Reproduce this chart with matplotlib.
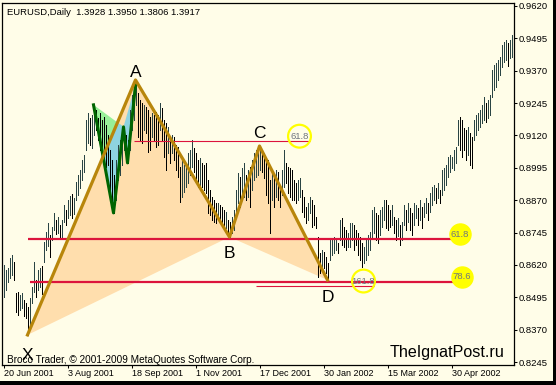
import numpy as np
import matplotlib.pyplot as plt
from matplotlib.patches import Polygon, Rectangle

# EURUSD daily bars from 20 Jun 2001, high / low in pips (price * 10000)
highs = [
    8620, 8601, 8608, 8647, 8659, 8632, 8512, 8516, 8504, 8512,
    8485, 8473, 8458, 8493, 8535, 8632, 8562, 8601, 8608, 8616,
    8709, 8748, 8782, 8736, 8767, 8821, 8794, 8805, 8775, 8794,
    8852, 8832, 8871, 8886, 8894, 8879, 8941, 8968, 8987, 9025,
    9045, 9180, 9207, 9188, 9199, 9238, 9218, 9188, 9207, 9180,
    9191, 9161, 9122, 9064, 9025, 8968, 9025, 9083, 9103, 9122,
    9153, 9122, 9103, 9218, 9276, 9307, 9334, 9284, 9257, 9245,
    9238, 9230, 9218, 9191, 9207, 9199, 9211, 9199, 9245, 9226,
    9180, 9168, 9153, 9103, 9122, 9114, 9083, 9076, 8998, 9025,
    9006, 8998, 9052, 9064, 9103, 9072, 9052, 9025, 9033, 9014,
    9006, 9014, 8948, 8910, 8883, 8871, 8859, 8859, 8852, 8844,
    8832, 8825, 8794, 8786, 8805, 8832, 8910, 8975, 8960, 8995,
    9014, 8968, 8987, 8998, 9025, 9052, 9064, 9076, 9079, 9064,
    9052, 9025, 9025, 8948, 8975, 8960, 8987, 8979, 8921, 8987,
    9064, 9014, 8998, 8995, 8987, 8948, 8937, 8948, 8956, 8910,
    8883, 8844, 8859, 8883, 8871, 8852, 8805, 8728, 8666, 8678,
    8670, 8651, 8628, 8717, 8724, 8728, 8717, 8705, 8794, 8802,
    8767, 8755, 8744, 8782, 8782, 8775, 8755, 8744, 8728, 8705,
    8690, 8717, 8736, 8748, 8832, 8844, 8821, 8813, 8832, 8844,
    8871, 8871, 8852, 8832, 8852, 8805, 8794, 8802, 8775, 8786,
    8852, 8832, 8859, 8840, 8821, 8859, 8852, 8840, 8871, 8844,
    8859, 8879, 8859, 8898, 8921, 8929, 8917, 8937, 8910, 8987,
    8995, 9006, 9037, 9045, 9037, 9064, 9076, 9180, 9191, 9180,
    9149, 9141, 9153, 9130, 9114, 9180, 9199, 9207, 9218, 9238,
    9269, 9245, 9257, 9276, 9373, 9392, 9400, 9411, 9423, 9469,
    9481, 9489, 9477, 9489, 9508,
]
lows = [
    8497, 8524, 8555, 8570, 8582, 8562, 8439, 8427, 8446, 8454,
    8423, 8416, 8350, 8377, 8473, 8516, 8497, 8524, 8535, 8508,
    8632, 8678, 8693, 8651, 8717, 8755, 8740, 8744, 8724, 8728,
    8786, 8775, 8802, 8813, 8802, 8817, 8871, 8890, 8917, 8948,
    8979, 9064, 9091, 9083, 9072, 9122, 9141, 9103, 9064, 9052,
    9025, 8998, 9006, 8910, 8852, 8821, 8871, 8948, 8968, 9006,
    9064, 9025, 9014, 9064, 9141, 9180, 9238, 9114, 9103, 9091,
    9141, 9130, 9056, 9064, 9114, 9103, 9076, 9083, 9141, 9103,
    9037, 8987, 9052, 9014, 9052, 9025, 8987, 8960, 8863, 8883,
    8902, 8921, 8937, 8968, 8998, 8979, 8948, 8921, 8929, 8921,
    8910, 8898, 8821, 8813, 8794, 8786, 8782, 8794, 8786, 8775,
    8755, 8763, 8736, 8728, 8744, 8755, 8813, 8859, 8844, 8871,
    8883, 8871, 8883, 8844, 8910, 8948, 8960, 8968, 8987, 8979,
    8956, 8890, 8859, 8744, 8871, 8844, 8883, 8871, 8844, 8890,
    8921, 8937, 8898, 8883, 8871, 8871, 8859, 8871, 8883, 8825,
    8805, 8782, 8794, 8821, 8767, 8775, 8763, 8574, 8589, 8601,
    8608, 8589, 8562, 8639, 8659, 8666, 8678, 8666, 8717, 8697,
    8690, 8678, 8690, 8690, 8717, 8678, 8697, 8659, 8639, 8612,
    8628, 8639, 8659, 8678, 8728, 8744, 8717, 8705, 8736, 8767,
    8794, 8763, 8755, 8767, 8775, 8744, 8717, 8732, 8697, 8717,
    8775, 8755, 8786, 8755, 8736, 8775, 8802, 8775, 8794, 8763,
    8805, 8821, 8794, 8825, 8852, 8871, 8859, 8879, 8859, 8890,
    8910, 8929, 8960, 8979, 8995, 8987, 9014, 9083, 9064, 9037,
    9064, 9025, 9045, 9006, 8995, 9103, 9122, 9141, 9153, 9168,
    9180, 9172, 9188, 9199, 9269, 9296, 9307, 9334, 9353, 9384,
    9404, 9411, 9388, 9419, 9423,
]

date_labels = ["20 Jun 2001", "3 Aug 2001", "18 Sep 2001", "1 Nov 2001",
               "17 Dec 2001", "30 Jan 2002", "15 Mar 2002", "30 Apr 2002"]
date_step = 32
price_ticks = [0.9620, 0.9495, 0.9370, 0.9245, 0.9120, 0.8995,
               0.8870, 0.8745, 0.8620, 0.8495, 0.8370, 0.8245]

# XABCD pattern (bar index, price)
pattern_names = ["X", "A", "B", "C", "D"]
pattern_bars = [12, 66, 113, 128, 162]
pattern_prices = [0.8350, 0.9334, 0.8728, 0.9079, 0.8562]

# small inner pattern
small_bars = [45, 55, 60, 62, 66]
small_prices = [0.9238, 0.8821, 0.9153, 0.9014, 0.9315]

# fibo levels
fib_levels = [0.8720, 0.8556, 0.9099, 0.8540]
fib_labels = ["61.8", "78.6", "61.8", "161.8"]
fib_from = [12, 13, 65, 126]
fib_to = [233, 234, 153, 185]
fib_main = [True, True, False, False]

bg = "#FFFDE8"
plt.rcParams['font.family'] = ['Liberation Sans', 'DejaVu Sans']

W, H = 556, 385
fig = plt.figure(figsize=(W / 100, H / 100), dpi=100)
fig.patch.set_facecolor(bg)
ax = fig.add_axes([2 / W, 1 - 365 / H, 512 / W, 362 / H])
ax.set_facecolor(bg)

n = len(highs)
x = np.arange(n)
hi = np.array(highs) / 10000
lo = np.array(lows) / 10000
mid = (hi + lo) / 2
down = np.r_[False, mid[1:] < mid[:-1]]
cols = np.where(down, "black", "#2A4444")
ax.vlines(x, lo, hi, colors=cols, linewidth=0.55, antialiased=False,
          snap=True, zorder=3)

# pattern triangles
xab = Polygon(list(zip(pattern_bars[:3], pattern_prices[:3])), closed=True,
              fc="#FFDEAD", ec="none", zorder=1)
bcd = Polygon(list(zip(pattern_bars[2:], pattern_prices[2:])), closed=True,
              fc="#FFDEAD", ec="none", zorder=1)
ax.add_patch(xab)
ax.add_patch(bcd)

g1 = Polygon(list(zip(small_bars[:3], small_prices[:3])), closed=True,
             fc="#98F098", ec="none", zorder=1.5)
ax.add_patch(g1)
for pts in (list(zip(small_bars[:3], small_prices[:3])),
            list(zip(small_bars[2:], small_prices[2:]))):
    b = Polygon(pts, closed=True, fc="#8ED3E0", ec="none", zorder=1.6)
    ax.add_patch(b)
    b.set_clip_path(xab)

ax.plot(small_bars, small_prices, color="#006400", lw=2.2, zorder=4)
ax.plot(pattern_bars, pattern_prices, color="#B8860B", lw=2.3, zorder=5)

# fibo lines and labels
for lev, lab, x0, x1, main in zip(fib_levels, fib_labels, fib_from, fib_to, fib_main):
    ax.hlines(lev, x0, x1, color="#DC143C", lw=1.6 if main else 0.8, zorder=4.5)
    cx = x1 - 5
    cy = lev + 0.0018
    if main:
        ax.scatter([cx], [cy], s=230, facecolor="#FFFF00", edgecolor="#FFFF00",
                   lw=1, zorder=6)
    else:
        ax.scatter([cx], [cy], s=270, facecolor="none", edgecolor="#FFFF00",
                   lw=1.6, zorder=6)
    ax.text(cx, cy, lab, fontsize=6.8, color="#6E7480", ha="center",
            va="center", zorder=7)

# point letters
offs = {"X": -18, "A": 2.2, "B": -15, "C": 5.8, "D": -15.8}
for name, bx, by in zip(pattern_names, pattern_bars, pattern_prices):
    ax.annotate(name, (bx, by), xytext=(0, offs[name]), textcoords="offset points",
                ha="center", va="baseline", fontsize=12.5, color="black", zorder=8)

# shifted by half a pixel so every bar sits on one pixel column
ax.set_xlim(-0.75, n + 0.25)
ax.set_ylim(0.8234, 0.9631)

ax.yaxis.tick_right()
ax.set_yticks(price_ticks)
ax.set_yticklabels([f"{p:.4f}" for p in price_ticks])
ax.set_xticks(np.arange(len(date_labels)) * date_step)
ax.set_xticklabels(date_labels, ha="left")
ax.tick_params(axis="y", length=2.2, width=0.75, pad=1.4, labelsize=6.8, colors="black")
ax.tick_params(axis="x", length=2.2, width=0.75, pad=0.8, labelsize=6.5, colors="black")
for s in ax.spines.values():
    s.set_color("black")
    s.set_linewidth(0.9)

fig.text(7 / W, 1 - 15 / H, "EURUSD,Daily  1.3928 1.3950 1.3806 1.3917",
         fontsize=6.8, va="baseline", ha="left")
fig.text(7 / W, 1 - 363 / H, "Broco Trader, \u00a9 2001-2009 MetaQuotes Software Corp.",
         fontsize=7.2, va="baseline", ha="left")
fig.text(390 / W, 1 - 357 / H, "TheIgnatPost.ru", fontsize=11.6,
         va="baseline", ha="left")

# window frame at right and bottom
fig.patches.append(Rectangle((553 / W, 0), 3 / W, 1, transform=fig.transFigure,
                             fc="black", ec="none"))
fig.patches.append(Rectangle((0, 0), 1, 4 / H, transform=fig.transFigure,
                             fc="black", ec="none"))

fig.savefig("out.png", dpi=100, facecolor=bg)
